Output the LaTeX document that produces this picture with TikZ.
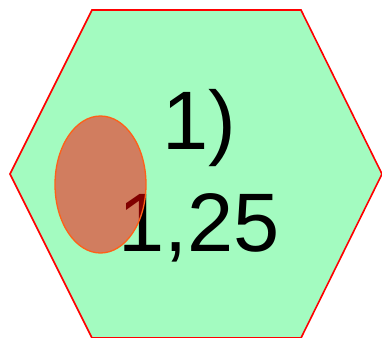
\documentclass[tikz,border=0pt]{standalone}
\usepackage{fontspec}
\setmainfont{Liberation Sans}
\usepackage{xcolor}
\usetikzlibrary{positioning}

\definecolor{mintgreen}{RGB}{163,251,192}
\definecolor{blobedge}{RGB}{255,96,24}

\begin{document}
\begin{tikzpicture}[x=1pt, y=-1pt,
    hexa/.style={draw=red, fill=mintgreen, line width=1.6pt},
    blob/.style={draw=blobedge, fill=red, fill opacity=0.5, draw opacity=1, line width=1.3pt},
    lbl/.style={align=center, inner sep=0pt, font=\fontsize{83}{102}\selectfont}
  ]
    \useasboundingbox (0,0) rectangle (382,337);

    \coordinate (w)  at (10,174);
    \coordinate (nw) at (92,10);
    \coordinate (ne) at (301,10);
    \coordinate (e)  at (382,174);
    \coordinate (se) at (301,338);
    \coordinate (sw) at (92,338);

    \draw[hexa] (w) -- (nw) -- (ne) -- (e) -- (se) -- (sw) -- cycle;

    \node[lbl] (val) at (199,176) {1)\\1,25};

    \draw[blob] (100.5,184.5) ellipse [x radius=45.5, y radius=68.5];
  \end{tikzpicture}
\end{document}
